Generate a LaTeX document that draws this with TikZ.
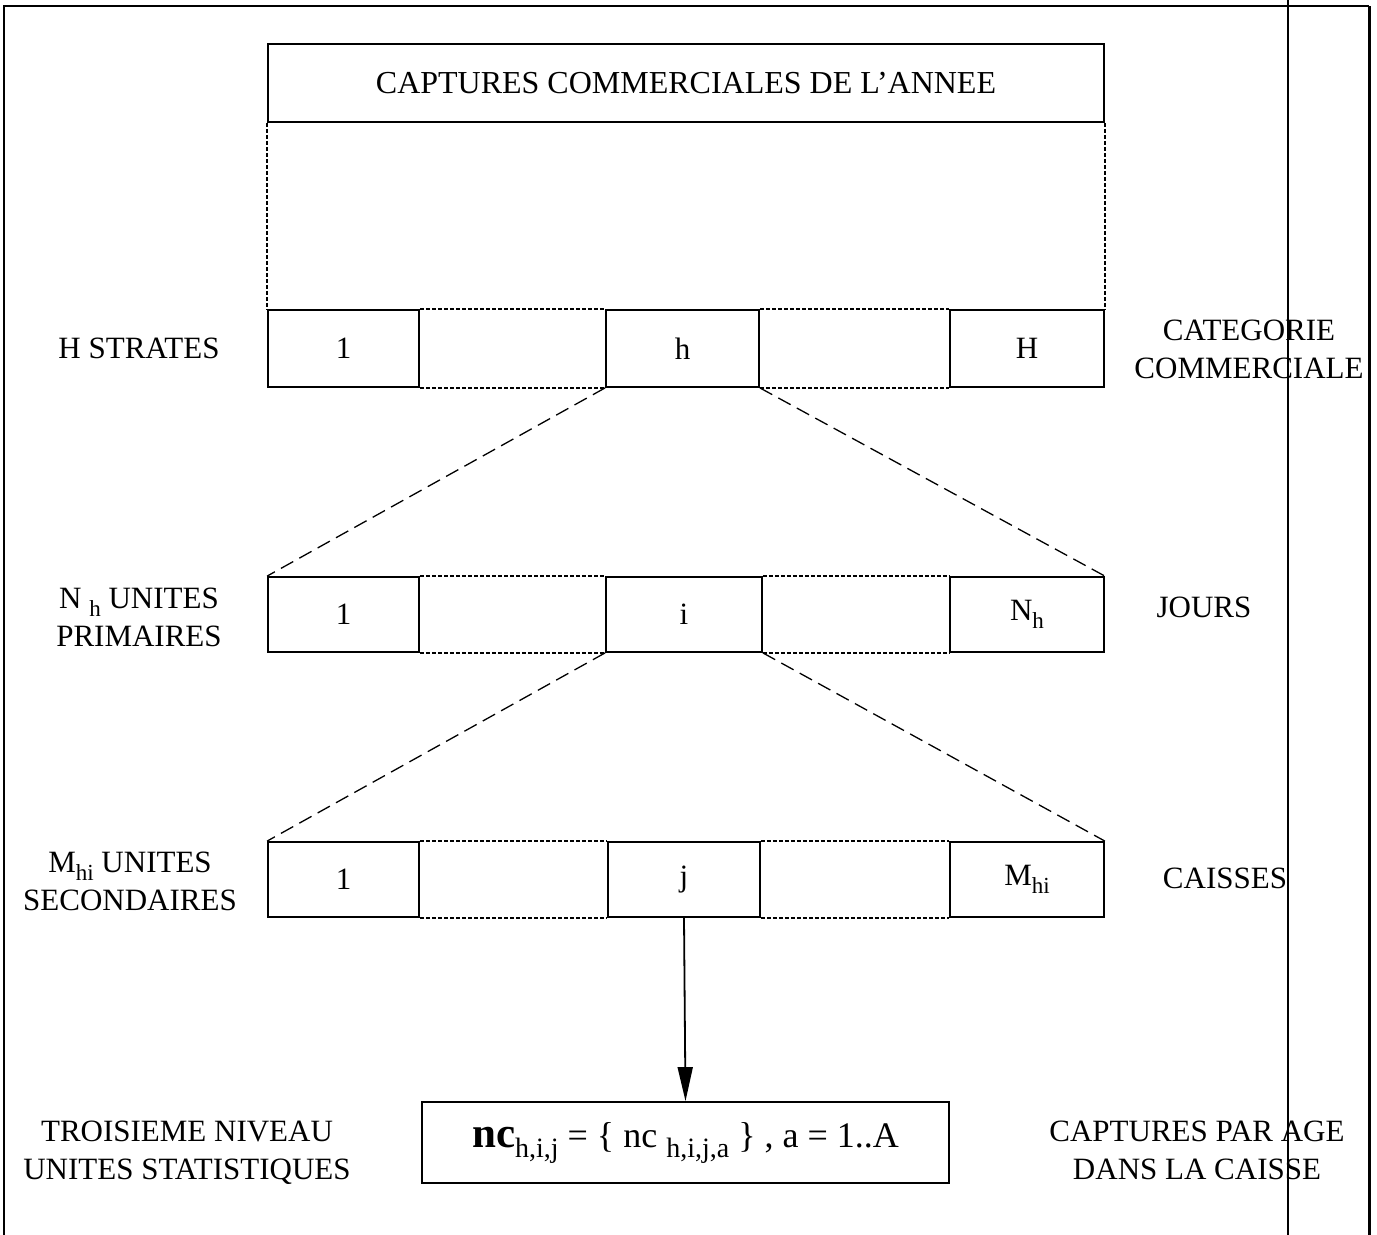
\documentclass[tikz,border=0pt]{standalone}
\usepackage{fontspec}
\setmainfont{Liberation Serif}
\usetikzlibrary{arrows.meta}
\newcommand\fsmain{\fontsize{31}{38}\selectfont}
\newcommand\fstitle{\fontsize{32}{38}\selectfont}
\newcommand\lowtxt[1]{\raisebox{-8pt}{\fontsize{23}{23}\selectfont #1}}
\newcommand\loweq[1]{\raisebox{-10pt}{\fontsize{28}{28}\selectfont #1}}
\begin{document}
\begin{tikzpicture}[x=1pt,y=-1pt,
  box/.style={draw, line width=1.8pt, inner sep=0pt, font=\fsmain},
  lbl/.style={align=center, inner sep=0pt, font=\fsmain},
  dotline/.style={line width=2.4pt, dash pattern=on 4pt off 2pt},
  dashline/.style={line width=1.3pt, dash pattern=on 14pt off 7pt},
  frame/.style={line width=2.2pt}]
\useasboundingbox (0,0) rectangle (1377,1235);
% frame
\draw[frame] (4,1235) -- (4,6) -- (1369,6);
\draw[line width=3pt] (1369,6) -- (1369,1235);
\draw[line width=1.2pt] (1288,0) -- (1288,1235);
% top box
\node[box, font=\fstitle, minimum width=836pt, minimum height=78pt] (top) at (686,83) {CAPTURES COMMERCIALES DE L'ANNEE};
% row 1
\node[box, minimum width=151pt, minimum height=77pt] (b1) at (343.5,348.5) {1};
\node[box, minimum width=153pt, minimum height=77pt] (bh) at (682.5,348.5) {h};
\node[box, minimum width=154pt, minimum height=77pt] (bH) at (1027,348.5) {H};
% row 2
\node[box, minimum width=151pt, minimum height=75pt] (c1) at (343.5,614.5) {1};
\node[box, minimum width=156pt, minimum height=75pt] (ci) at (684,614.5) {i};
\node[box, minimum width=154pt, minimum height=75pt] (cN) at (1027,614.5) {N\lowtxt{h}};
% row 3
\node[box, minimum width=151pt, minimum height=75pt] (d1) at (343.5,879.5) {1};
\node[box, minimum width=152pt, minimum height=75pt] (dj) at (684,879.5) {j};
\node[box, minimum width=154pt, minimum height=75pt] (dM) at (1027,879.5) {M\lowtxt{hi}};
% result box
\node[box, minimum width=527pt, minimum height=81pt, font=\fontsize{36}{40}\selectfont] (res) at (685.5,1142.5)
  {{\fontsize{43}{43}\selectfont\bfseries nc}\loweq{h,i,j}\ = \{ nc \loweq{h,i,j,a} \} , a = 1..A};
% labels
\node[lbl] (l1) at (139,348) {H STRATES};
\node[lbl] (r1) at (1249,349) {CATEGORIE\\COMMERCIALE};
\node[lbl] (l2) at (139,617) {N \lowtxt{h} UNITES\\PRIMAIRES};
\node[lbl] (r2) at (1204,607) {JOURS};
\node[lbl] (l3) at (130,881) {M\lowtxt{hi} UNITES\\SECONDAIRES};
\node[lbl] (r3) at (1225,878) {CAISSES};
\node[lbl] (l4) at (187,1153) {TROISIEME NIVEAU\\UNITES STATISTIQUES};
\node[lbl] (r4) at (1197,1150) {CAPTURES PAR AGE\\DANS LA CAISSE};
% dotted connectors
\draw[dotline] (top.south west) -- (b1.north west);
\draw[dotline] (top.south east) -- (bH.north east);
\draw[dotline] (b1.north east) -- (bh.north west);
\draw[dotline] (b1.south east) -- (bh.south west);
\draw[dotline] (bh.north east) -- (bH.north west);
\draw[dotline] (bh.south east) -- (bH.south west);
\draw[dotline] (c1.north east) -- (ci.north west);
\draw[dotline] (c1.south east) -- (ci.south west);
\draw[dotline] (ci.north east) -- (cN.north west);
\draw[dotline] (ci.south east) -- (cN.south west);
\draw[dotline] (d1.north east) -- (dj.north west);
\draw[dotline] (d1.south east) -- (dj.south west);
\draw[dotline] (dj.north east) -- (dM.north west);
\draw[dotline] (dj.south east) -- (dM.south west);
% dashed connectors
\draw[dashline] (bh.south west) -- (c1.north west);
\draw[dashline] (bh.south east) -- (cN.north east);
\draw[dashline] (ci.south west) -- (d1.north west);
\draw[dashline] (ci.south east) -- (dM.north east);
% arrow
\draw[line width=1.8pt, -{Triangle[length=34pt, width=15pt]}] (dj.south) -- (res.north);
\end{tikzpicture}
\end{document}
